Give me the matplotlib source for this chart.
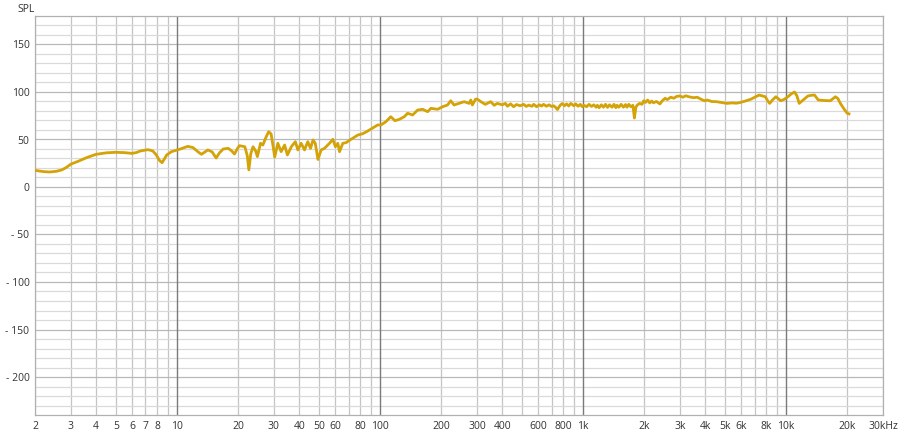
import matplotlib
matplotlib.use("Agg")
import matplotlib.pyplot as plt
from matplotlib.ticker import FixedLocator, NullFormatter

plt.rcParams['font.family'] = ['Open Sans', 'DejaVu Sans']

freq = [2.0, 2.2, 2.36, 2.55, 2.71, 2.85, 3.0, 3.3, 3.6, 4.0, 4.5, 5.0, 5.5, 6.0, 6.3, 6.6, 7.2, 7.6,
        7.9, 8.2, 8.45, 8.7, 8.9, 9.4, 10.0, 10.5, 11.3, 12.0, 12.7, 13.2, 14.2, 14.9, 15.6, 16.2,
        16.9, 17.9, 18.6, 19.2, 19.8, 20.3, 21.6, 22.2, 22.6, 23.1, 23.7, 24.4, 24.9, 25.8, 26.5,
        27.4, 28.3, 29.1, 29.8, 30.3, 31.4, 32.6, 33.9, 35.0, 36.6, 38.3, 39.4, 40.9, 42.5, 44.1,
        45.5, 46.8, 48.0, 49.5, 51.3, 53.3, 56.4, 58.6, 60.3, 62.0, 63.2, 65.6, 68.1, 72, 77.8, 82,
        87, 92, 97.4, 101, 107, 113, 118.5, 124.5, 131.7, 136.8, 144.8, 153.2, 162.2, 171.7, 178.1,
        192.1, 203.4, 215, 223, 231.6, 245, 259.6, 275, 280, 285, 296, 302, 314, 330, 351, 365, 378,
        400, 415, 424, 440, 455, 470, 490, 510, 525, 540, 560, 572, 590, 610, 625, 639, 660, 680,
        700, 717, 735, 748, 760, 775, 791, 810, 830, 850, 870, 901, 920, 945, 970, 990, 1011, 1040,
        1070, 1100, 1130, 1160, 1177, 1200, 1230, 1260, 1290, 1320, 1350, 1390, 1420, 1450, 1470,
        1500, 1540, 1580, 1620, 1645, 1680, 1720, 1760, 1790, 1820, 1850, 1900, 1950, 1990, 2030,
        2080, 2130, 2180, 2220, 2300, 2390, 2450, 2536, 2600, 2700, 2800, 2900, 3000, 3100, 3200,
        3350, 3510, 3650, 3800, 3950, 4100, 4300, 4540, 4800, 5120, 5400, 5700, 5950, 6300, 6690,
        7000, 7370, 7600, 7900, 8100, 8300, 8600, 8900, 9150, 9400, 9800, 10200, 10600, 11000,
        11300, 11600, 12200, 12800, 13300, 13800, 14400, 15500, 16500, 17500, 18000, 18500, 19300,
        20000, 20400]

spl = [17.5, 16.2, 15.8, 16.5, 18, 20.5, 24, 27.5, 31, 34.4, 36, 36.5, 36.2, 35.4, 36.2, 37.9, 39.3, 38,
       34, 28, 25.6, 30, 33.7, 37.2, 39, 40.3, 42.8, 41.5, 37, 34.4, 39, 37, 30.5, 36,
       40, 40.7, 38, 34.7, 40, 43.5, 42.4, 33, 18, 35, 42.4, 38, 32, 46, 44.2,
       52, 58.2, 55.8, 42, 31.5, 46, 37.2, 44.2, 33.7, 42.4, 47.7, 39, 46, 39, 47.7,
       40.7, 49.5, 46, 29, 39, 40.7, 46, 50.2, 42.4, 46, 37.2, 46, 46.7, 50.2, 54.7, 56,
       58.9, 62, 65.3, 65.3, 68.8, 74, 69.8, 71.2, 74, 77.6, 75.8, 81, 81.8, 79.3, 82.8,
       81.8, 84.5, 86.3, 90.8, 86.3, 88, 89.8, 88, 91.6, 86.3, 92.6, 92.3, 89.8, 87, 89.8, 86, 88,
       86.5, 88, 85, 87.5, 84.5, 86.8, 85.5, 87, 84.8, 86.2, 85, 87, 84.5, 86.5, 85.2, 87, 85, 86.5,
       84.8, 85.5, 83.5, 81.5, 84, 86.5, 87.8, 85.5, 87.5, 85.3, 88, 85.5, 87.5, 85, 87, 84.5, 86, 84.5,
       87, 84.8, 86.5, 84, 86, 83.5, 86.5, 84, 87, 83.8, 86.5, 84, 87, 83.5, 86,
       84, 87, 84, 86.8, 84, 87, 84.5, 86, 72.6, 84, 86.3, 88, 87, 90.8, 89,
       91.5, 88.5, 90.5, 88.7, 90, 87.4, 90.5, 93.4, 92, 94.5, 93.5, 95.5, 95.8, 94.5, 96,
       94.8, 94, 94.5, 92.5, 90.8, 91.5, 90, 89.8, 89, 88, 88.5, 88.2, 89, 90.5, 92.3,
       94.5, 96.8, 96, 95, 91, 88, 92, 95, 93, 90.8, 92.3, 95, 98, 100,
       96, 88, 92, 95.8, 96.5, 96.8, 91.6, 91, 90.8, 95, 93, 88, 82,
       77.6, 77]

xtick_vals = [2, 3, 4, 5, 6, 7, 8, 10, 20, 30, 40, 50, 60, 80, 100, 200, 300, 400, 600, 800,
              1000, 2000, 3000, 4000, 5000, 6000, 8000, 10000, 20000, 30000]
xtick_labels = ['2', '3', '4', '5', '6', '7', '8', '10', '20', '30', '40', '50', '60', '80', '100',
                '200', '300', '400', '600', '800', '1k', '2k', '3k', '4k', '5k', '6k', '8k', '10k',
                '20k', '30kHz']
ytick_vals = [-200, -150, -100, -50, 0, 50, 100, 150]
ytick_labels = ['- 200', '- 150', '- 100', '- 50', '0', '50', '100', '150']

W, H = 900, 436
fig = plt.figure(figsize=(W / 100, H / 100), dpi=100)
ax = fig.add_axes([35 / W, (H - 415) / H, (883 - 35) / W, (415 - 16) / H])
ax.set_xscale('log')
ax.set_xlim(2, 30000)
ax.set_ylim(-240, 180)

# grid lines
minor_x = []
for dec in [1, 10, 100, 1000, 10000]:
    for m in range(2, 10):
        v = dec * m
        if 2 <= v <= 30000:
            minor_x.append(v)
for v in minor_x:
    ax.axvline(v, color='#c4c4c4', lw=0.9, zorder=1)
for v in [10, 100, 1000, 10000]:
    ax.axvline(v, color='#7a7a7a', lw=1.0, zorder=1.2)
for v in range(-230, 180, 10):
    col = '#b8b8b8' if v % 50 == 0 else '#dadada'
    ax.axhline(v, color=col, lw=0.9, zorder=1)

ax.plot(freq, spl, color='#D4A307', lw=2.0, zorder=3, solid_joinstyle='round')

ax.set_xticks(xtick_vals)
ax.set_xticklabels(xtick_labels)
ax.xaxis.set_minor_locator(FixedLocator([]))
ax.xaxis.set_minor_formatter(NullFormatter())
ax.set_yticks(ytick_vals)
ax.set_yticklabels(ytick_labels)
ax.tick_params(axis='both', length=0, labelsize=7.5, colors='#333333')
ax.tick_params(axis='x', pad=4)
ax.tick_params(axis='y', pad=4)
for s in ax.spines.values():
    s.set_color('#b0b0b0')
    s.set_linewidth(0.9)

fig.text(17 / W, 1 - 9 / H, 'SPL', fontsize=7.5, color='#333333', va='center', ha='left')

fig.savefig('out.png', dpi=100)
